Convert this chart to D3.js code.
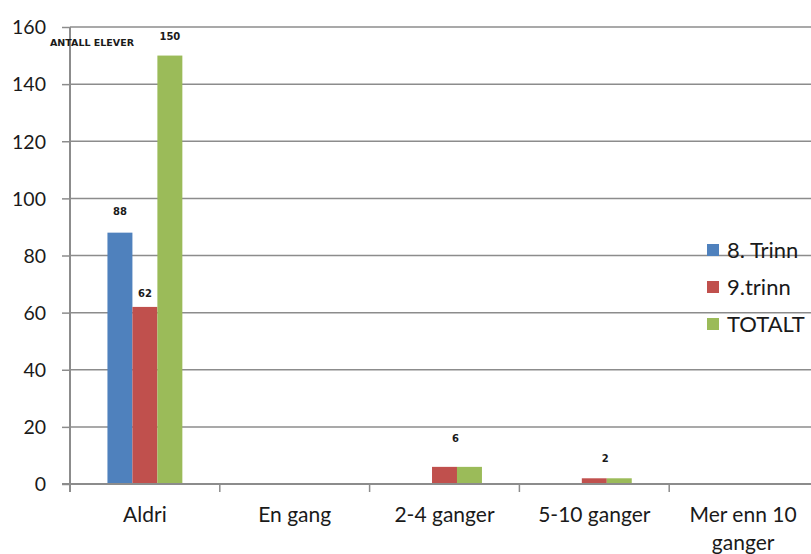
<!DOCTYPE html>
<html><head><meta charset="utf-8">
<script src="https://cdn.jsdelivr.net/npm/d3@7"></script>
<style>body{margin:0;background:#fff;} svg{display:block;}</style>
</head><body>
<svg id="c" width="811" height="554"></svg>
<script>
const categories = ["Aldri", "En gang", "2-4 ganger", "5-10 ganger", "Mer enn 10 ganger"];
const seriesNames = ["8. Trinn", "9.trinn", "TOTALT"];
const trinn8 = [88, 0, 0, 0, 0];
const trinn9 = [62, 0, 6, 2, 0];
const totalt = [150, 0, 6, 2, 0];
const yTicks = [0, 20, 40, 60, 80, 100, 120, 140, 160];
const axisTitle = "ANTALL ELEVER";
// data labels: [series index, category index, text]
const dataLabels = [[0, 0, "88"], [1, 0, "62"], [2, 0, "150"], [1, 2, "6"], [1, 3, "2"]];
const colors = ["#4F81BD", "#C0504D", "#9BBB59"];

const seriesVals = [trinn8, trinn9, totalt];
const svg = d3.select("#c");
const font = "Lato, 'Open Sans', sans-serif";
const txt = "#1a1a1a";

const x = d3.scaleBand().domain(categories).range([70, 819]).paddingInner(0).paddingOuter(0);
const y = d3.scaleLinear().domain([0, 160]).range([484, 27]);
const inner = d3.scaleBand().domain(d3.range(3)).range([0, x.bandwidth()]).paddingInner(0).paddingOuter(1.5);

// gridlines
svg.append("g").selectAll("line").data(yTicks.filter(d => d > 0)).join("line")
  .attr("x1", 70).attr("x2", 811).attr("y1", d => y(d)).attr("y2", d => y(d))
  .attr("stroke", "#8c8c8c").attr("stroke-width", 1.5);

// y axis
const yAxis = svg.append("g").attr("transform", "translate(70,0)")
  .call(d3.axisLeft(y).tickValues(yTicks).tickSize(8).tickPadding(8));
yAxis.select(".domain").attr("stroke", "#8c8c8c").attr("stroke-width", 2).attr("d", `M0,${y(160)}V${y(0) + 8}`);
yAxis.selectAll(".tick line").attr("stroke", "#8c8c8c").attr("stroke-width", 1.5);
yAxis.selectAll(".tick text").attr("font-family", font).attr("font-size", 19.5).attr("fill", txt).attr("x", -24).attr("dy", "0.35em");

// bars
seriesVals.forEach((vals, si) => {
  svg.append("g").selectAll("rect").data(vals).join("rect")
    .attr("x", (d, i) => x(categories[i]) + inner(si))
    .attr("y", d => y(d))
    .attr("width", inner.bandwidth())
    .attr("height", d => y(0) - y(d))
    .attr("fill", colors[si]);
});

// x axis
svg.append("line").attr("x1", 62).attr("x2", 811).attr("y1", y(0)).attr("y2", y(0))
  .attr("stroke", "#8c8c8c").attr("stroke-width", 2);
const bounds = categories.map(c => x(c)).concat([x.range()[1]]);
svg.append("g").selectAll("line").data(bounds).join("line")
  .attr("x1", d => d).attr("x2", d => d).attr("y1", y(0)).attr("y2", y(0) + 8)
  .attr("stroke", "#8c8c8c").attr("stroke-width", 1.5);

// category labels (wrapped)
categories.forEach(c => {
  const lines = c === "Mer enn 10 ganger" ? ["Mer enn 10", "ganger"] : [c];
  const t = svg.append("text").attr("font-family", font).attr("font-size", 21).attr("fill", txt)
    .attr("text-anchor", "middle");
  lines.forEach((l, li) => t.append("tspan").attr("x", x(c) + x.bandwidth() / 2 + (lines.length > 1 ? -1 : 0)).attr("y", 522 + li * 28).text(l));
});

// data labels
dataLabels.forEach(([si, ci, t]) => {
  const cx = x(categories[ci]) + inner(si) + inner.bandwidth() / 2 + (ci > 0 ? 11 : 0);
  const v = seriesVals[si][ci];
  const dy = ci === 2 ? 25 : (si === 1 && ci === 0 ? 10 : (si === 0 ? 18 : 16));
  svg.append("text").attr("x", cx).attr("y", y(v) - dy).attr("text-anchor", "middle")
    .attr("font-family", "'DejaVu Sans', sans-serif").attr("font-size", 10).attr("font-weight", "bold")
    .attr("fill", txt).text(t);
});

// axis title
svg.append("text").attr("x", 50).attr("y", 46).attr("font-family", "'DejaVu Sans', sans-serif")
  .attr("font-size", 9.5).attr("font-weight", "bold").attr("fill", txt).text(axisTitle);

// legend
seriesNames.forEach((n, i) => {
  const ly = 250 + i * 37;
  svg.append("rect").attr("x", 707).attr("y", ly - 6).attr("width", 12).attr("height", 12).attr("fill", colors[i]);
  svg.append("text").attr("x", 727).attr("y", ly).attr("dy", "0.35em").attr("font-family", font)
    .attr("font-size", 22).attr("fill", txt).text(n);
});
</script>
</body></html>
